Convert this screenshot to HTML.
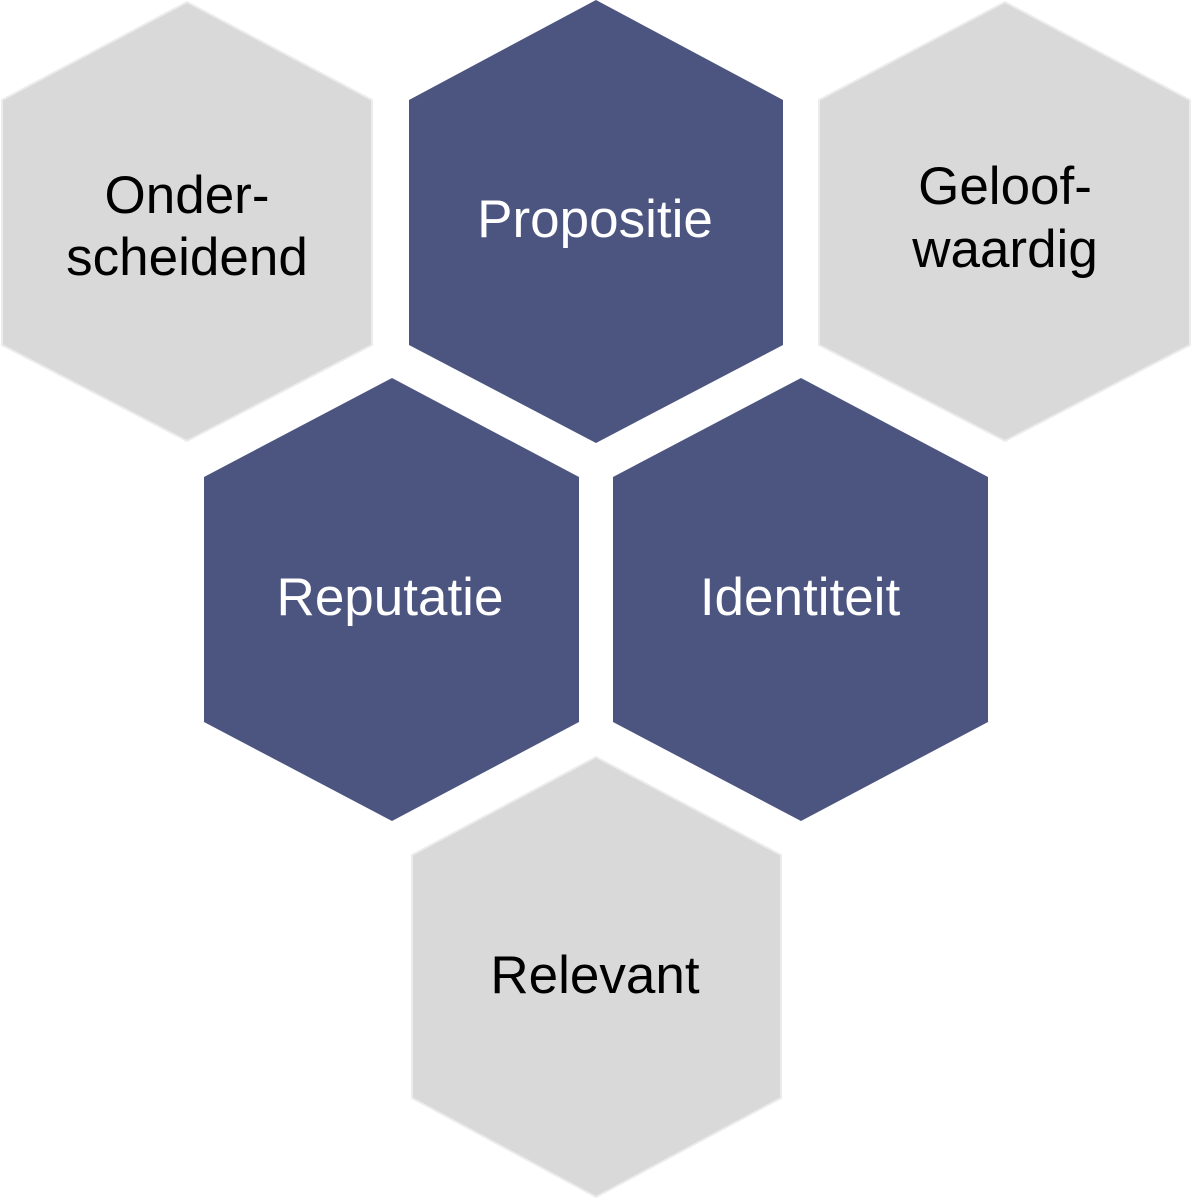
<!DOCTYPE html>
<html>
<head>
<meta charset="utf-8">
<style>
  html, body { margin: 0; padding: 0; background: #ffffff; }
  body { width: 1193px; height: 1200px; overflow: hidden; }
  svg { display: block; }
  text { font-family: "Liberation Sans", sans-serif; font-size: 53px; text-anchor: middle; }
  .dark { fill: #ffffff; }
  .light { fill: #000000; }
</style>
</head>
<body>
<svg width="1193" height="1200" viewBox="0 0 1193 1200" xmlns="http://www.w3.org/2000/svg">
  <!-- Gray hexagons -->
  <polygon points="187,2 372,100 372,345 187,441 2,345 2,100" fill="#d9d9d9" stroke="#ececec" stroke-width="2"/>
  <polygon points="1005,2 1190,100 1190,345 1005,441 819,345 819,100" fill="#d9d9d9" stroke="#ececec" stroke-width="2"/>
  <polygon points="596,757 781,855 781,1098 596,1197 412,1098 412,855" fill="#d9d9d9" stroke="#ececec" stroke-width="2"/>
  <!-- Blue hexagons -->
  <polygon points="596,0 783,100 783,345 596,443 409,345 409,100" fill="#4b5580"/>
  <polygon points="392,378 579,477 579,722 392,821 204,722 204,477" fill="#4b5580"/>
  <polygon points="801,378 988,477 988,722 801,821 613,722 613,477" fill="#4b5580"/>

  <!-- Labels -->
  <text class="light" x="187" y="213">Onder-</text>
  <text class="light" x="187" y="275">scheidend</text>

  <text class="dark" x="595" y="237">Propositie</text>

  <text class="light" x="1005" y="204">Geloof-</text>
  <text class="light" x="1005" y="267">waardig</text>

  <text class="dark" x="390" y="615">Reputatie</text>
  <text class="dark" x="800" y="615">Identiteit</text>

  <text class="light" x="595" y="993">Relevant</text>
</svg>
</body>
</html>
